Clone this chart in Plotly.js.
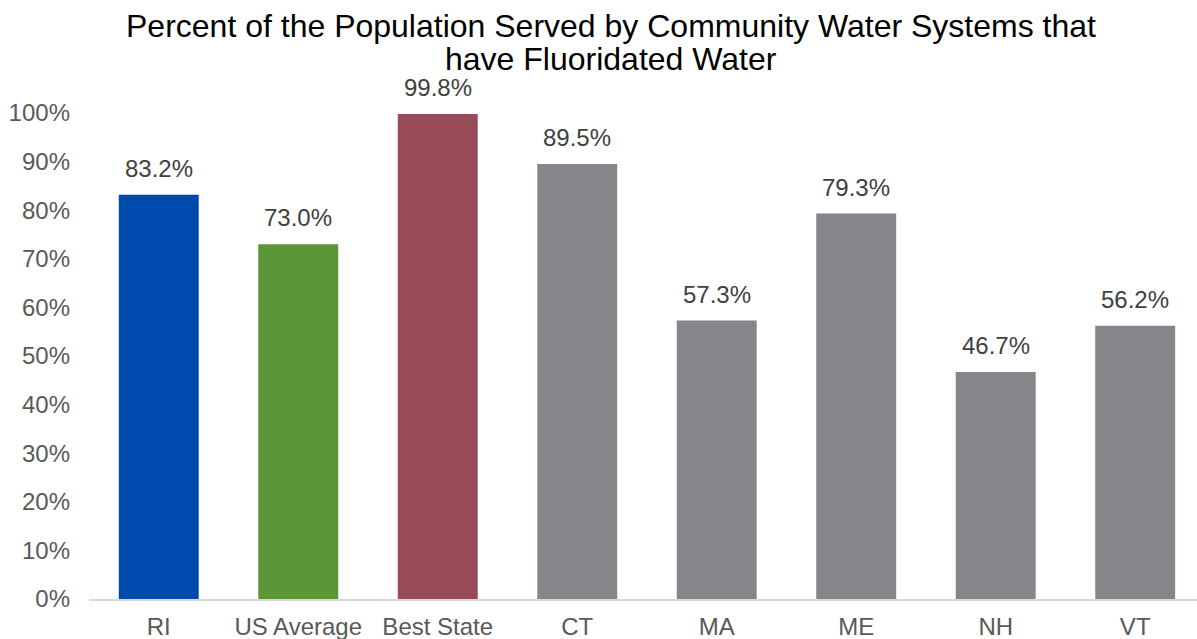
<!DOCTYPE html>
<html><head><meta charset="utf-8">
<script src="https://cdn.plot.ly/plotly-3.0.1.min.js"></script>
<style>html,body{margin:0;padding:0;background:#fff}</style>
</head><body>
<div id="chart" style="width:1197px;height:639px"></div>
<script>
const categories = ["RI","US Average","Best State","CT","MA","ME","NH","VT"];
const values = [83.2, 73.0, 99.8, 89.5, 57.3, 79.3, 46.7, 56.2];
const barColors = ["#004AAD","#5B9637","#964B57","#858689","#858689","#858689","#858689","#858689"];
const tickVals = [0,10,20,30,40,50,60,70,80,90,100];
const tickText = tickVals.map(v => v + "%");
const titleLines = ["Percent of the Population Served by Community Water Systems that", "have Fluoridated Water"];

const FONT = "Liberation Sans, Arial, sans-serif";

const trace = {
  type: "bar",
  x: categories,
  y: values,
  marker: {color: barColors},
  width: 0.573,
  hoverinfo: "skip"
};

const labelAnns = categories.map((c, i) => ({
  x: c, y: values[i], xref: "x", yref: "y",
  text: values[i].toFixed(1) + "%",
  showarrow: false, yanchor: "bottom", yshift: 11,
  font: {family: FONT, size: 24, color: "#404040"}
}));

const titleAnns = titleLines.map((t, i) => ({
  text: t, xref: "paper", yref: "paper",
  x: 0.471, y: i === 0 ? 1.179 : 1.111,
  xanchor: "center", yanchor: "middle", showarrow: false,
  font: {family: FONT, size: 32, color: "#000"}
}));

const layout = {
  width: 1197, height: 639,
  margin: {l: 89, r: 0, t: 113, b: 40},
  paper_bgcolor: "#fff", plot_bgcolor: "#fff",
  font: {family: FONT, color: "#595959"},
  xaxis: {
    type: "category",
    range: [-0.5, 7.443],
    showline: true, linecolor: "#D9D9D9", linewidth: 1.5,
    ticks: "", showgrid: false,
    tickfont: {size: 24, color: "#595959"},
    ticklabelstandoff: 6,
    fixedrange: true
  },
  yaxis: {
    range: [0, 100],
    tickvals: tickVals, ticktext: tickText,
    showgrid: false, zeroline: false, showline: false,
    ticks: "",
    tickfont: {size: 24, color: "#595959"},
    ticklabelstandoff: 18,
    fixedrange: true
  },
  annotations: titleAnns.concat(labelAnns),
  showlegend: false
};

Plotly.newPlot("chart", [trace], layout, {displayModeBar: false, staticPlot: true});
</script>
</body></html>
